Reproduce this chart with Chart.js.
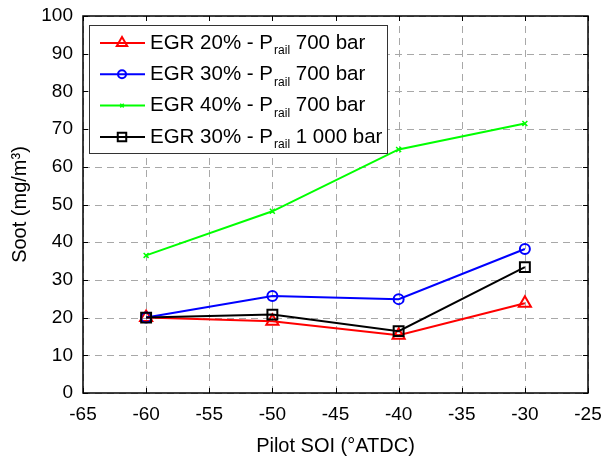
<!DOCTYPE html>
<html>
<head>
<meta charset="utf-8">
<script src="https://cdn.jsdelivr.net/npm/chart.js@4.4.1/dist/chart.umd.min.js"></script>
<style>
  html, body { margin: 0; padding: 0; background: #fff; }
  #wrap { width: 602px; height: 461px; }
</style>
</head>
<body>
<div id="wrap"><canvas id="soot" width="602" height="461"></canvas></div>
<script>
const FONT_FAMILY = '"Liberation Sans", Arial, Helvetica, sans-serif';
const pilotSOI    = [-60, -50, -40, -30];
const egr20p700   = [20.0, 19.0, 15.3, 23.8];
const egr30p700   = [20.0, 25.7, 24.9, 38.2];
const egr40p700   = [36.5, 48.2, 64.6, 71.5];
const egr30p1000  = [20.0, 20.8, 16.4, 33.4];
const seriesLabels = [
  ['EGR 20% - P', 'rail', ' 700 bar'],
  ['EGR 30% - P', 'rail', ' 700 bar'],
  ['EGR 40% - P', 'rail', ' 700 bar'],
  ['EGR 30% - P', 'rail', ' 1 000 bar'],
];

const toPoints = ys => ys.map((y, i) => ({ x: pilotSOI[i], y }));

const datasets = [
  { data: toPoints(egr20p700),  borderColor: '#ff0000', pointStyle: 'triangle', pointRadius: 7,   pointBorderWidth: 2,   order: 4 },
  { data: toPoints(egr30p700),  borderColor: '#0000ff', pointStyle: 'circle',   pointRadius: 5,   pointBorderWidth: 2,   order: 3 },
  { data: toPoints(egr40p700),  borderColor: '#00ff00', pointStyle: 'crossRot', pointRadius: 3.5, pointBorderWidth: 1.5, order: 2 },
  { data: toPoints(egr30p1000), borderColor: '#000000', pointStyle: 'rect',     pointRadius: 7,   pointBorderWidth: 2,   order: 1 },
].map((d, i) => ({
  ...d,
  label: seriesLabels[i].join(''),
  borderWidth: 2,
  pointBorderColor: d.borderColor,
  pointBackgroundColor: 'rgba(0,0,0,0)',
  tension: 0,
}));

// dashed grid behind the lines
const gridPlugin = {
  id: 'dashGrid',
  beforeDatasetsDraw(chart) {
    const { ctx, chartArea: a, scales: { x, y } } = chart;
    ctx.save();
    ctx.strokeStyle = '#a8a8a8';
    ctx.lineWidth = 1;
    ctx.setLineDash([7, 5]);
    ctx.beginPath();
    x.ticks.forEach(t => {
      const px = Math.round(x.getPixelForValue(t.value)) + 0.5;
      ctx.moveTo(px, a.bottom); ctx.lineTo(px, a.top);
    });
    y.ticks.forEach(t => {
      const py = Math.round(y.getPixelForValue(t.value)) + 0.5;
      ctx.moveTo(a.left, py); ctx.lineTo(a.right, py);
    });
    ctx.stroke();
    ctx.restore();
  },
};

// box frame with inward ticks + legend with subscripts
const framePlugin = {
  id: 'frame',
  afterDraw(chart) {
    const { ctx, chartArea: a, scales: { x, y } } = chart;
    ctx.save();
    ctx.strokeStyle = '#000';
    ctx.lineWidth = 1.5;
    ctx.setLineDash([]);
    ctx.strokeRect(a.left, a.top, a.right - a.left, a.bottom - a.top);
    ctx.lineWidth = 1;
    const tl = 5;
    ctx.beginPath();
    x.ticks.forEach(t => {
      const px = Math.round(x.getPixelForValue(t.value)) + 0.5;
      ctx.moveTo(px, a.bottom); ctx.lineTo(px, a.bottom - tl);
      ctx.moveTo(px, a.top);    ctx.lineTo(px, a.top + tl);
    });
    y.ticks.forEach(t => {
      const py = Math.round(y.getPixelForValue(t.value)) + 0.5;
      ctx.moveTo(a.left, py);  ctx.lineTo(a.left + tl, py);
      ctx.moveTo(a.right, py); ctx.lineTo(a.right - tl, py);
    });
    ctx.stroke();

    // legend
    const lx = a.left + 6, ly = a.top + 9, lw = 298, lh = 128;
    ctx.fillStyle = '#fff';
    ctx.fillRect(lx, ly, lw, lh);
    ctx.strokeStyle = '#333';
    ctx.lineWidth = 1;
    ctx.strokeRect(lx + 0.5, ly + 0.5, lw, lh);

    chart.data.datasets.forEach((ds, i) => {
      const ry = ly + 18 + i * 31.3;
      ctx.strokeStyle = ds.borderColor;
      ctx.lineWidth = 2;
      ctx.beginPath();
      ctx.moveTo(lx + 11, ry); ctx.lineTo(lx + 56, ry);
      ctx.stroke();
      ctx.fillStyle = 'rgba(0,0,0,0)';
      ctx.lineWidth = ds.pointBorderWidth;
      Chart.helpers.drawPoint(ctx, {
        pointStyle: ds.pointStyle, radius: ds.pointRadius - 1, borderWidth: ds.pointBorderWidth, rotation: 0,
      }, lx + 33, ry);

      const parts = seriesLabels[i];
      let tx = lx + 61;
      ctx.fillStyle = '#000';
      ctx.textBaseline = 'middle';
      ctx.textAlign = 'left';
      ctx.font = `20.5px ${FONT_FAMILY}`;
      ctx.fillText(parts[0], tx, ry);
      tx += ctx.measureText(parts[0]).width;
      ctx.font = `12px ${FONT_FAMILY}`;
      ctx.fillText(parts[1], tx + 1, ry + 8);
      tx += ctx.measureText(parts[1]).width + 1;
      ctx.font = `20.5px ${FONT_FAMILY}`;
      ctx.fillText(parts[2], tx, ry);
    });
    ctx.restore();
  },
};

new Chart(document.getElementById('soot'), {
  type: 'line',
  data: { datasets },
  plugins: [gridPlugin, framePlugin],
  options: {
    responsive: false,
    animation: false,
    layout: { padding: { top: 16, right: 14, left: 0, bottom: 0 } },
    plugins: { legend: { display: false }, tooltip: { enabled: false } },
    scales: {
      x: {
        type: 'linear', min: -65, max: -25,
        grid: { display: false, drawTicks: false },
        border: { display: false },
        ticks: { stepSize: 5, color: '#000', padding: 10, font: { family: FONT_FAMILY, size: 19 } },
        title: { display: true, text: 'Pilot SOI (°ATDC)', color: '#000', padding: { bottom: 3 }, font: { family: FONT_FAMILY, size: 20 } },
        afterFit: s => { s.height = 68; s.paddingLeft = 0; s.paddingRight = 0; },
      },
      y: {
        min: 0, max: 100,
        grid: { display: false, drawTicks: false },
        border: { display: false },
        ticks: { stepSize: 10, color: '#000', padding: 10, font: { family: FONT_FAMILY, size: 19 } },
        title: { display: true, text: 'Soot (mg/m³)', color: '#000', padding: { top: 8 }, font: { family: FONT_FAMILY, size: 20 } },
        afterFit: s => { s.width = 83; s.paddingTop = 0; s.paddingBottom = 0; },
      },
    },
  },
});
</script>
</body>
</html>
